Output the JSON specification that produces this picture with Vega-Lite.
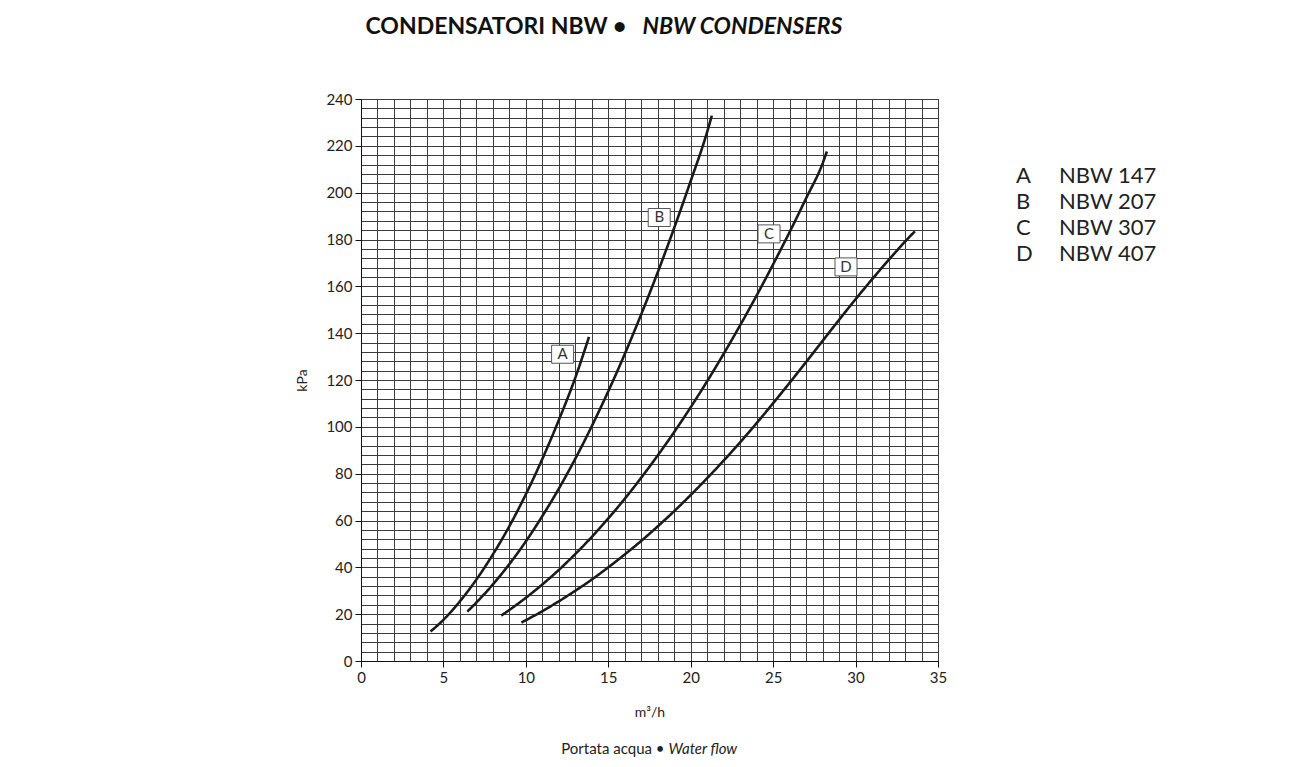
{
  "$schema": "https://vega.github.io/schema/vega-lite/v6.json",
  "width": 577,
  "height": 562,
  "autosize": {"type": "none"},
  "padding": {"left": 361, "top": 99, "right": 354, "bottom": 106},
  "background": "white",
  "config": {
    "font": "Lato",
    "view": {"stroke": "#111", "strokeWidth": 1}
  },
  "datasets": {
    "curves": [
      {"series": "A", "name": "NBW 147", "q": 4.22, "dp": 12.6},
      {"series": "A", "name": "NBW 147", "q": 5, "dp": 17.6},
      {"series": "A", "name": "NBW 147", "q": 6, "dp": 25.5},
      {"series": "A", "name": "NBW 147", "q": 7, "dp": 34.8},
      {"series": "A", "name": "NBW 147", "q": 8, "dp": 45.5},
      {"series": "A", "name": "NBW 147", "q": 9, "dp": 57.6},
      {"series": "A", "name": "NBW 147", "q": 10, "dp": 71.2},
      {"series": "A", "name": "NBW 147", "q": 11, "dp": 86.3},
      {"series": "A", "name": "NBW 147", "q": 12, "dp": 102.9},
      {"series": "A", "name": "NBW 147", "q": 13, "dp": 121.0},
      {"series": "A", "name": "NBW 147", "q": 13.83, "dp": 138.4},
      {"series": "B", "name": "NBW 207", "q": 6.45, "dp": 21.1},
      {"series": "B", "name": "NBW 207", "q": 7, "dp": 25.0},
      {"series": "B", "name": "NBW 207", "q": 8, "dp": 32.7},
      {"series": "B", "name": "NBW 207", "q": 9, "dp": 41.4},
      {"series": "B", "name": "NBW 207", "q": 10, "dp": 51.1},
      {"series": "B", "name": "NBW 207", "q": 11, "dp": 61.9},
      {"series": "B", "name": "NBW 207", "q": 12, "dp": 73.6},
      {"series": "B", "name": "NBW 207", "q": 13, "dp": 86.4},
      {"series": "B", "name": "NBW 207", "q": 14, "dp": 100.3},
      {"series": "B", "name": "NBW 207", "q": 15, "dp": 115.2},
      {"series": "B", "name": "NBW 207", "q": 16, "dp": 131.1},
      {"series": "B", "name": "NBW 207", "q": 17, "dp": 148.1},
      {"series": "B", "name": "NBW 207", "q": 18, "dp": 166.0},
      {"series": "B", "name": "NBW 207", "q": 19, "dp": 185.0},
      {"series": "B", "name": "NBW 207", "q": 20, "dp": 205.0},
      {"series": "B", "name": "NBW 207", "q": 21, "dp": 226.0},
      {"series": "B", "name": "NBW 207", "q": 21.28, "dp": 232.9},
      {"series": "C", "name": "NBW 307", "q": 8.51, "dp": 19.4},
      {"series": "C", "name": "NBW 307", "q": 9, "dp": 21.8},
      {"series": "C", "name": "NBW 307", "q": 10, "dp": 27.0},
      {"series": "C", "name": "NBW 307", "q": 11, "dp": 32.7},
      {"series": "C", "name": "NBW 307", "q": 12, "dp": 38.9},
      {"series": "C", "name": "NBW 307", "q": 13, "dp": 45.7},
      {"series": "C", "name": "NBW 307", "q": 14, "dp": 53.0},
      {"series": "C", "name": "NBW 307", "q": 15, "dp": 60.9},
      {"series": "C", "name": "NBW 307", "q": 16, "dp": 69.3},
      {"series": "C", "name": "NBW 307", "q": 17, "dp": 78.3},
      {"series": "C", "name": "NBW 307", "q": 18, "dp": 87.8},
      {"series": "C", "name": "NBW 307", "q": 19, "dp": 97.8},
      {"series": "C", "name": "NBW 307", "q": 20, "dp": 108.4},
      {"series": "C", "name": "NBW 307", "q": 21, "dp": 119.5},
      {"series": "C", "name": "NBW 307", "q": 22, "dp": 131.2},
      {"series": "C", "name": "NBW 307", "q": 23, "dp": 143.4},
      {"series": "C", "name": "NBW 307", "q": 24, "dp": 156.1},
      {"series": "C", "name": "NBW 307", "q": 25, "dp": 169.4},
      {"series": "C", "name": "NBW 307", "q": 26, "dp": 183.2},
      {"series": "C", "name": "NBW 307", "q": 27, "dp": 197.6},
      {"series": "C", "name": "NBW 307", "q": 28, "dp": 212.5},
      {"series": "C", "name": "NBW 307", "q": 28.26, "dp": 217.6},
      {"series": "D", "name": "NBW 407", "q": 9.73, "dp": 16.4},
      {"series": "D", "name": "NBW 407", "q": 11, "dp": 21.3},
      {"series": "D", "name": "NBW 407", "q": 12, "dp": 25.5},
      {"series": "D", "name": "NBW 407", "q": 13, "dp": 30.0},
      {"series": "D", "name": "NBW 407", "q": 14, "dp": 34.8},
      {"series": "D", "name": "NBW 407", "q": 15, "dp": 40.0},
      {"series": "D", "name": "NBW 407", "q": 16, "dp": 45.5},
      {"series": "D", "name": "NBW 407", "q": 17, "dp": 51.3},
      {"series": "D", "name": "NBW 407", "q": 18, "dp": 57.5},
      {"series": "D", "name": "NBW 407", "q": 19, "dp": 64.0},
      {"series": "D", "name": "NBW 407", "q": 20, "dp": 70.9},
      {"series": "D", "name": "NBW 407", "q": 21, "dp": 78.1},
      {"series": "D", "name": "NBW 407", "q": 22, "dp": 85.6},
      {"series": "D", "name": "NBW 407", "q": 23, "dp": 93.4},
      {"series": "D", "name": "NBW 407", "q": 24, "dp": 101.6},
      {"series": "D", "name": "NBW 407", "q": 25, "dp": 110.1},
      {"series": "D", "name": "NBW 407", "q": 26, "dp": 118.8},
      {"series": "D", "name": "NBW 407", "q": 27, "dp": 127.7},
      {"series": "D", "name": "NBW 407", "q": 28, "dp": 136.7},
      {"series": "D", "name": "NBW 407", "q": 29, "dp": 145.7},
      {"series": "D", "name": "NBW 407", "q": 30, "dp": 154.5},
      {"series": "D", "name": "NBW 407", "q": 31, "dp": 163.0},
      {"series": "D", "name": "NBW 407", "q": 32, "dp": 171.2},
      {"series": "D", "name": "NBW 407", "q": 33, "dp": 179.1},
      {"series": "D", "name": "NBW 407", "q": 33.6, "dp": 183.5}
    ],
    "labels": [
      {"series": "A", "q": 12.23, "dp": 131.0},
      {"series": "B", "q": 18.09, "dp": 189.4},
      {"series": "C", "q": 24.75, "dp": 182.4},
      {"series": "D", "q": 29.42, "dp": 168.3}
    ]
  },
  "layer": [
    {
      "data": {"name": "curves"},
      "mark": {"type": "line", "interpolate": "monotone", "strokeWidth": 2.6, "strokeCap": "butt"},
      "encoding": {
        "x": {
          "field": "q",
          "type": "quantitative",
          "scale": {"domain": [0, 35], "nice": false, "zero": false},
          "axis": {
            "orient": "bottom",
            "values": [0,1,2,3,4,5,6,7,8,9,10,11,12,13,14,15,16,17,18,19,20,21,22,23,24,25,26,27,28,29,30,31,32,33,34,35],
            "labelExpr": "datum.value % 5 === 0 ? datum.label : ''",
            "labelOverlap": false,
            "labelFlush": false,
            "labelFont": "Lato",
            "labelFontSize": 15,
            "labelColor": "#222",
            "labelPadding": 3,
            "tickSize": 6,
            "tickColor": "#111",
            "tickOpacity": {"condition": {"test": "datum.value % 5 === 0", "value": 1}, "value": 0},
            "domainColor": "#111",
            "grid": true,
            "gridColor": "#3c3c3c",
            "gridWidth": 1,
            "gridOpacity": 1,
            "title": "m³/h",
            "titleFont": "Lato",
            "titleFontSize": 14,
            "titleFontWeight": "normal",
            "titleColor": "#222",
            "titlePadding": 20
          }
        },
        "y": {
          "field": "dp",
          "type": "quantitative",
          "scale": {"domain": [0, 240], "nice": false},
          "axis": {
            "orient": "left",
            "values": [0,4,8,12,16,20,24,28,32,36,40,44,48,52,56,60,64,68,72,76,80,84,88,92,96,100,104,108,112,116,120,124,128,132,136,140,144,148,152,156,160,164,168,172,176,180,184,188,192,196,200,204,208,212,216,220,224,228,232,236,240],
            "labelExpr": "datum.value % 20 === 0 ? datum.label : ''",
            "labelOverlap": false,
            "labelFlush": false,
            "labelFont": "Lato",
            "labelFontSize": 15,
            "labelColor": "#222",
            "labelPadding": 3,
            "tickSize": 6,
            "tickColor": "#111",
            "tickOpacity": {"condition": {"test": "datum.value % 20 === 0", "value": 1}, "value": 0},
            "domainColor": "#111",
            "grid": true,
            "gridColor": "#3c3c3c",
            "gridWidth": 1,
            "gridOpacity": 1,
            "title": "kPa",
            "titleFont": "Lato",
            "titleFontSize": 14,
            "titleFontWeight": "normal",
            "titleColor": "#222",
            "titlePadding": 16
          }
        },
        "color": {
          "field": "series",
          "type": "nominal",
          "scale": {"range": ["#1a1a1a", "#1a1a1a", "#1a1a1a", "#1a1a1a"]},
          "legend": {
            "orient": "none",
            "legendX": 633,
            "legendY": 66,
            "title": null,
            "padding": 0,
            "symbolSize": 0,
            "symbolStrokeWidth": 0,
            "symbolOpacity": 0,
            "labelOffset": 0,
            "labelFont": "Lato",
            "labelFontSize": 22,
            "labelColor": "#222",
            "rowPadding": 4
          }
        },
        "strokeDash": {
          "field": "name",
          "type": "nominal",
          "scale": {"range": [[1, 0], [1, 0], [1, 0], [1, 0]]},
          "legend": {
            "orient": "none",
            "legendX": 676,
            "legendY": 66,
            "title": null,
            "padding": 0,
            "symbolSize": 0,
            "symbolStrokeWidth": 0,
            "symbolOpacity": 0,
            "labelOffset": 0,
            "labelFont": "Lato",
            "labelFontSize": 22,
            "labelColor": "#222",
            "rowPadding": 4
          }
        }
      }
    },
    {
      "data": {"name": "labels"},
      "mark": {"type": "point", "shape": "M-1.1,-0.9H1.1V0.9H-1.1Z", "size": 400, "filled": true, "fill": "white", "stroke": "#555", "strokeWidth": 1, "opacity": 1},
      "encoding": {
        "x": {
          "field": "q",
          "type": "quantitative",
          "scale": {"domain": [0, 35], "nice": false, "zero": false},
          "axis": {
            "orient": "top",
            "labels": false,
            "ticks": false,
            "domain": false,
            "grid": false,
            "title": "CONDENSATORI NBW •",
            "titleFont": "Lato",
            "titleFontSize": 23,
            "titleFontWeight": "bold",
            "titleColor": "#111",
            "titleAlign": "left",
            "titleBaseline": "alphabetic",
            "titleAngle": 0,
            "titleX": 4,
            "titleY": -66
          }
        },
        "y": {
          "field": "dp",
          "type": "quantitative",
          "scale": {"domain": [0, 240], "nice": false},
          "axis": {
            "orient": "right",
            "labels": false,
            "ticks": false,
            "domain": false,
            "grid": false,
            "title": "NBW CONDENSERS",
            "titleFont": "Lato",
            "titleFontSize": 23,
            "titleFontWeight": "bold",
            "titleFontStyle": "italic",
            "titleColor": "#111",
            "titleAlign": "left",
            "titleBaseline": "alphabetic",
            "titleAngle": 0,
            "titleX": -296,
            "titleY": -66
          }
        }
      }
    },
    {
      "data": {"name": "labels"},
      "mark": {"type": "text", "font": "Lato", "fontSize": 15, "color": "#333", "baseline": "middle", "align": "center"},
      "encoding": {
        "x": {
          "field": "q",
          "type": "quantitative",
          "scale": {"domain": [0, 35], "nice": false, "zero": false},
          "axis": {
            "orient": "top",
            "labels": false,
            "ticks": false,
            "domain": false,
            "grid": false,
            "title": "Portata acqua •",
            "titleFont": "Lato",
            "titleFontSize": 15,
            "titleFontWeight": "normal",
            "titleColor": "#222",
            "titleAlign": "right",
            "titleBaseline": "middle",
            "titleAngle": 0,
            "titleX": 303,
            "titleY": 649
          }
        },
        "y": {
          "field": "dp",
          "type": "quantitative",
          "scale": {"domain": [0, 240], "nice": false},
          "axis": {
            "orient": "right",
            "labels": false,
            "ticks": false,
            "domain": false,
            "grid": false,
            "title": "Water flow",
            "titleFont": "Lato",
            "titleFontSize": 15,
            "titleFontWeight": "normal",
            "titleFontStyle": "italic",
            "titleColor": "#222",
            "titleAlign": "left",
            "titleBaseline": "middle",
            "titleAngle": 0,
            "titleX": -270,
            "titleY": 649
          }
        },
        "text": {"field": "series", "type": "nominal"}
      }
    }
  ],
  "resolve": {"scale": {"x": "independent", "y": "independent"}}
}
